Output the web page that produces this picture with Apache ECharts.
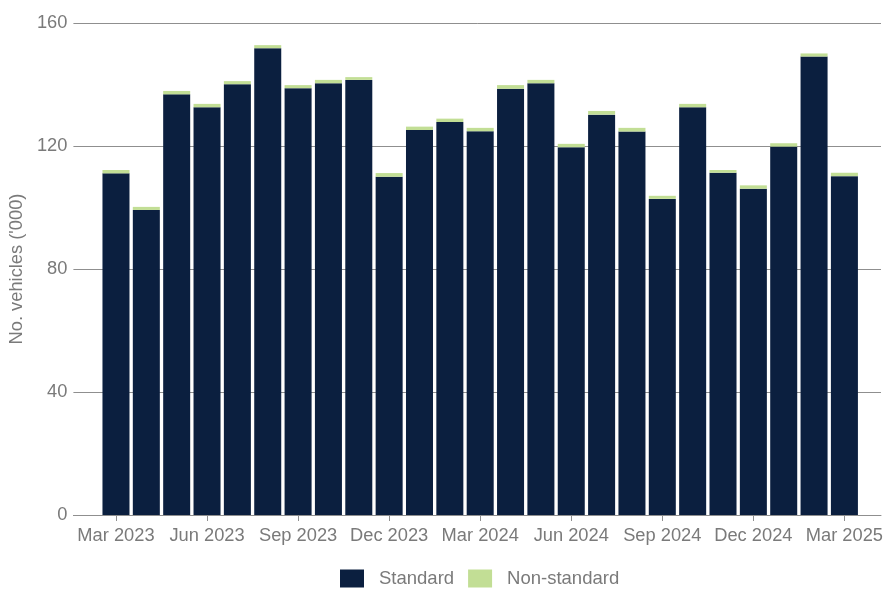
<!DOCTYPE html>
<html>
<head>
<meta charset="utf-8">
<script src="https://cdn.jsdelivr.net/npm/echarts@6/dist/echarts.min.js"></script>
<style>
html,body{margin:0;padding:0;background:#fff;}
#c{width:886px;height:590px;}
</style>
</head>
<body>
<div id="c"></div>
<script>
const categories = ['Mar 2023','Apr 2023','May 2023','Jun 2023','Jul 2023','Aug 2023','Sep 2023','Oct 2023','Nov 2023','Dec 2023','Jan 2024','Feb 2024','Mar 2024','Apr 2024','May 2024','Jun 2024','Jul 2024','Aug 2024','Sep 2024','Oct 2024','Nov 2024','Dec 2024','Jan 2025','Feb 2025','Mar 2025'];
const standard = [111.1, 99.2, 136.8, 132.6, 140.1, 151.8, 138.8, 140.4, 141.5, 110.0, 125.2, 127.8, 124.8, 138.6, 140.4, 119.6, 130.2, 124.7, 102.8, 132.6, 111.3, 106.1, 119.8, 149.1, 110.2];
const nonStandard = [1.1, 1.0, 1.1, 1.1, 1.0, 1.0, 1.0, 1.1, 0.9, 1.2, 1.1, 1.1, 1.1, 1.2, 1.1, 1.1, 1.2, 1.2, 1.0, 1.1, 0.9, 1.1, 1.1, 1.0, 1.1];
const yTicks = [0, 40, 80, 120, 160];

const font = 'Arial, "Liberation Sans", sans-serif';
const textGray = '#7a7a7a';
const lineGray = '#8f8f8f';

const chart = echarts.init(document.getElementById('c'), null, {renderer: 'canvas'});
chart.setOption({
  animation: false,
  backgroundColor: '#ffffff',
  textStyle: {fontFamily: font},
  legend: {
    data: ['Standard', 'Non-standard'],
    left: 340,
    top: 569,
    padding: 0,
    itemWidth: 24,
    itemHeight: 18,
    itemGap: 14,
    icon: 'rect',
    textStyle: {fontFamily: font, fontSize: 18.5, color: textGray, padding: [0, 0, 0, 10]}
  },
  grid: [
    {left: 72, right: 5, top: 23, bottom: 75},
    {left: 100.8, right: 24.8, top: 23, bottom: 75}
  ],
  xAxis: [
    {
      gridIndex: 0, type: 'value', min: 0, max: 1,
      axisLine: {show: true, lineStyle: {color: lineGray, width: 1}},
      axisTick: {show: false}, axisLabel: {show: false}, splitLine: {show: false}
    },
    {
      gridIndex: 1, type: 'category', data: categories,
      axisLine: {show: false},
      axisTick: {show: true, alignWithLabel: true, interval: 2, length: 6, lineStyle: {color: lineGray}},
      axisLabel: {interval: 2, color: textGray, fontSize: 18.3, fontFamily: font, margin: 12}
    }
  ],
  yAxis: [
    {
      gridIndex: 0, type: 'value', min: 0, max: 160, interval: 40,
      name: "No. vehicles ('000)", nameLocation: 'middle', nameGap: 42,
      nameTextStyle: {color: textGray, fontSize: 18.3, fontFamily: font},
      axisLine: {show: false}, axisTick: {show: false},
      axisLabel: {color: textGray, fontSize: 18.3, fontFamily: font, margin: 6,
        formatter: v => yTicks.includes(v) ? String(v) : ''},
      splitLine: {show: true, lineStyle: {color: lineGray, width: 1}}
    },
    {
      gridIndex: 1, type: 'value', min: 0, max: 160, interval: 40,
      axisLine: {show: false}, axisTick: {show: false}, axisLabel: {show: false}, splitLine: {show: false}
    }
  ],
  series: [
    {
      name: 'Standard', type: 'bar', stack: 'total', xAxisIndex: 1, yAxisIndex: 1,
      data: standard, barCategoryGap: '11%',
      itemStyle: {color: '#0b1f3f'}
    },
    {
      name: 'Non-standard', type: 'bar', stack: 'total', xAxisIndex: 1, yAxisIndex: 1,
      data: nonStandard, barCategoryGap: '11%',
      itemStyle: {color: '#c2de95'}
    }
  ]
});
</script>
</body>
</html>
